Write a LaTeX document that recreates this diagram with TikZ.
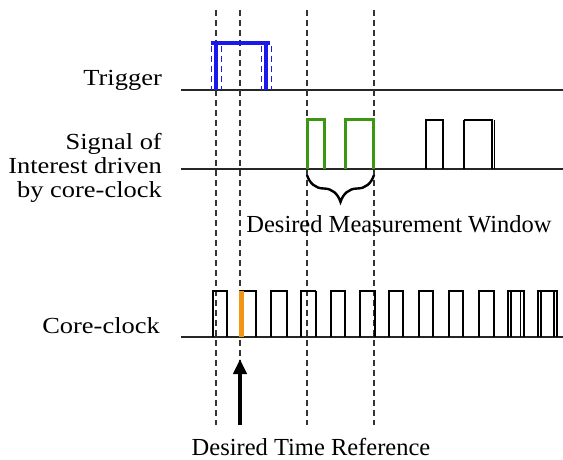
\documentclass[tikz,border=0pt]{standalone}
\usepackage{fontspec}
\setmainfont{Liberation Serif}
\newfontfamily\lblfont{Liberation Serif}[FakeStretch=1.15]
\usetikzlibrary{arrows.meta,decorations.pathreplacing}
\definecolor{trigblue}{RGB}{25,25,235}
\definecolor{siggreen}{RGB}{60,150,20}
\definecolor{refamber}{RGB}{240,150,20}
\begin{document}
\begin{tikzpicture}[x=1pt,y=-1pt,
  axis/.style={line width=1.3pt,draw=black!85},
  guide/.style={line width=1.3pt,draw=black!80,dash pattern=on 6pt off 4pt},
  thinpulse/.style={line width=1.2pt,draw=black},
  midpulse/.style={line width=2pt,draw=black},
  thickpulse/.style={line width=2.8pt,draw=black},
  trig/.style={line width=4pt,draw=trigblue},
  trigjit/.style={line width=1.8pt,draw=trigblue,dash pattern=on 6pt off 4pt},
  sig/.style={line width=3pt,draw=siggreen},
  lbl/.style={inner sep=0pt,align=right,font=\lblfont\fontsize{23}{24}\selectfont},
  note/.style={inner sep=0pt,font=\fontsize{24.5}{26}\selectfont}]
\useasboundingbox (0,0) rectangle (563,460);

% time axes
\draw[axis] (181,90) -- (563,90);
\draw[axis] (181,169) -- (563,169);
\draw[axis] (181,337) -- (563,337);

% vertical reference guides
\foreach \gx/\gn in {216/ga,240/gb,307/gc,374/gd}{
  \coordinate (\gn top) at (\gx,10);
  \coordinate (\gn bot) at (\gx,425);
  \draw[guide] (\gn top) -- (\gn bot);
}

% trigger pulse with edge jitter
\foreach \jx in {211.5,221.5,261.5,271.5}
  \draw[trigjit] (\jx,46) -- (\jx,90);
\draw[trig] (216,90) -- (216,43);
\draw[trig] (266,90) -- (266,43);
\draw[trig] (211,43) -- (270,43);

% signal of interest
\draw[sig] (307,169) |- (324,120) -- (324,169);
\draw[sig] (345,169) |- (373,120) -- (373,169);
\draw[thinpulse] (426,169) |- (443,120) -- (443,169);
\draw[thickpulse] (464,169) -- (464,120);
\draw[thinpulse] (464,120) -- (492,120) -- (492,169);
\draw[thinpulse] (494.5,120) -- (494.5,169);

% measurement window brace
\coordinate (wl) at (307,175);
\coordinate (wr) at (374,175);
\draw[line width=2.4pt,decorate,decoration={brace,amplitude=27pt}] (wr) -- (wl);

% core clock
\draw[thinpulse] (213,337) |- (227,291) -- (227,337);
\draw[thinpulse] (240,291) -- (256,291) -- (256,337);
\draw[line width=4.5pt,draw=refamber] (241.5,337) -- (241.5,291);
\draw[thinpulse] (271,337) |- (287,291) -- (287,337);
\draw[thickpulse] (301,337) |- (316,291);
\draw[midpulse] (316,291) -- (316,337);
\draw[midpulse] (331,337) |- (345,291) -- (345,337);
\draw[thickpulse] (360,337) |- (375,291) -- (375,337);
\draw[midpulse] (389,337) |- (403,291) -- (403,337);
\draw[midpulse] (419,337) |- (433,291) -- (433,337);
\draw[midpulse] (449,337) |- (463,291) -- (463,337);
\draw[midpulse] (479,337) |- (494,291) -- (494,337);
\draw[thinpulse] (508,337) |- (524,291) -- (524,337);
\draw[thinpulse] (511,337) -- (511,291);
\draw[thinpulse] (520.5,291) -- (520.5,337);
\draw[thinpulse] (538,337) |- (557,291) -- (557,337);
\draw[thinpulse] (541,337) -- (541,291);
\draw[thinpulse] (554,291) -- (554,337);

% row labels
\node[lbl,anchor=base east] (trigger) at (162,86) {Trigger};
\node[lbl,anchor=base east] (signal) at (162,197) {Signal of\\Interest driven\\by core-clock};
\node[lbl,anchor=base east] (clock) at (160,333) {Core-clock};

% annotations
\node[note,anchor=base] (window) at (399,232) {Desired Measurement Window};
\node[note,anchor=base] (timeref) at (311,455) {Desired Time Reference};
\coordinate (arrowtail) at (240,425);
\coordinate (arrowhead) at (240,359);
\draw[line width=4pt,-{Triangle[width=13pt,length=15pt]}] (arrowtail) -- (arrowhead);
\end{tikzpicture}
\end{document}
